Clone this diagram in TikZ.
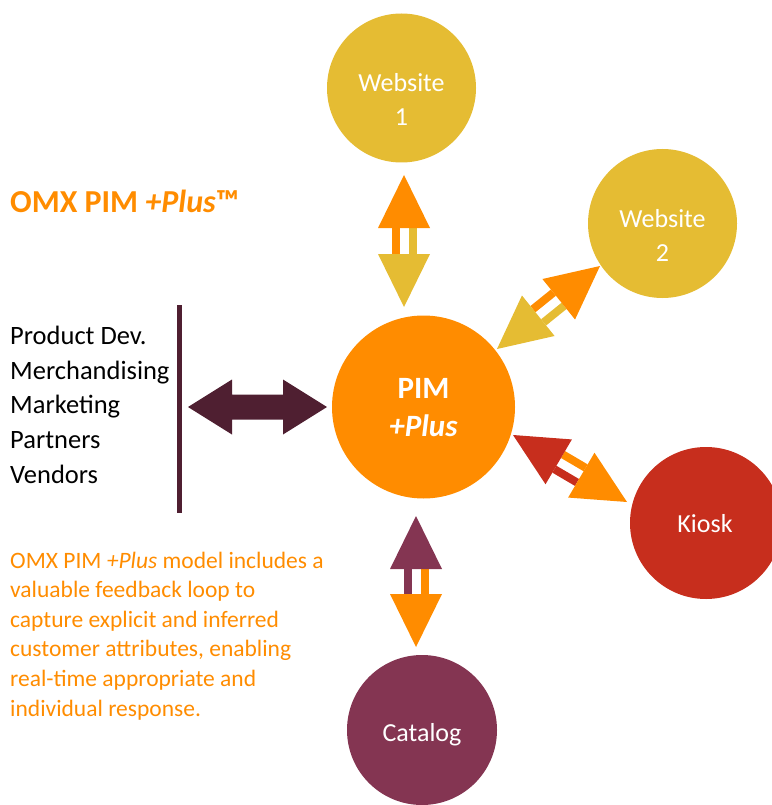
\documentclass[tikz,border=0pt]{standalone}
\usepackage{fontspec}
\setmainfont{Carlito}
\usepackage{xcolor}
\usepackage{tikz}
\usetikzlibrary{calc}

\definecolor{pimorange}{HTML}{FF8C00}
\definecolor{webgold}{HTML}{E5BC33}
\definecolor{kioskred}{HTML}{C72E1D}
\definecolor{catplum}{HTML}{843552}
\definecolor{deepplum}{HTML}{4F1F31}

% two-coloured double arrow: #1 inner tip, #2 outer tip, #3 outward colour, #4 inward colour
\newcommand{\twowayarrow}[4]{%
  \coordinate (hbo) at ($(#2)!53pt!(#1)$);
  \coordinate (hbi) at ($(#1)!53pt!(#2)$);
  \draw[#3, line width=8pt] ($(hbi)!8.5pt!90:(#2)$) -- ($(hbo)!8.5pt!-90:(#1)$);
  \draw[#4, line width=8pt] ($(hbi)!8.5pt!-90:(#2)$) -- ($(hbo)!8.5pt!90:(#1)$);
  \fill[#3] (#2) -- ($(hbo)!26pt!90:(#1)$) -- ($(hbo)!26pt!-90:(#1)$) -- cycle;
  \fill[#4] (#1) -- ($(hbi)!26pt!90:(#2)$) -- ($(hbi)!26pt!-90:(#2)$) -- cycle;
}

\begin{document}
\begin{tikzpicture}[x=1pt, y=-1pt,
    disc/.style={circle, inner sep=0pt, draw=none},
    disctext/.style={anchor=base, inner sep=0pt, align=center, text=white,
      font=\fontsize{26}{34}\selectfont},
    sidetext/.style={anchor=base west, inner sep=0pt, align=left}]

  \useasboundingbox (0,0) rectangle (771,805);

  % circles
  \node[disc, fill=webgold,   minimum size=149pt] (w1)      at (401.5,88)  {};
  \node[disc, fill=webgold,   minimum size=149pt] (w2)      at (662.5,223.5) {};
  \node[disc, fill=pimorange, minimum size=183pt] (pim)     at (423.5,407) {};
  \node[disc, fill=kioskred,  minimum size=152pt] (kiosk)   at (706,523)   {};
  \node[disc, fill=catplum,   minimum size=150pt] (catalog) at (422,730)   {};

  % base = last line
  \node[disctext] (w1txt) at (401.5,126) {Website\\1};
  \node[disctext] (w2txt) at (662.5,261.7) {Website\\2};
  \node[disctext, font=\fontsize{31}{38}\selectfont\bfseries] (pimtxt) at (423.5,436) {PIM\\\textit{+Plus}};
  \node[disctext] (kiosktxt)   at (705,532) {Kiosk};
  \node[disctext] (catalogtxt) at (422,741) {Catalog};

  % arrow ends
  \coordinate (w1in)  at (404,307);
  \coordinate (w1out) at (404,175);
  \coordinate (w2in)  at (497,349);
  \coordinate (w2out) at (600,266);
  \coordinate (kin)   at (513,435);
  \coordinate (kout)  at (627,502);
  \coordinate (cin)   at (416,516);
  \coordinate (cout)  at (416,647);

  \twowayarrow{w1in}{w1out}{pimorange}{webgold}
  \twowayarrow{w2in}{w2out}{pimorange}{webgold}
  \twowayarrow{kin}{kout}{pimorange}{kioskred}
  \twowayarrow{cin}{cout}{pimorange}{catplum}

  % left side
  \draw[deepplum, line width=5pt] (179,305) -- (179,513);
  \coordinate (la) at (188,407);
  \coordinate (ra) at (327,407);
  \fill[deepplum] (la) -- ++(44,-27.5) -- ++(0,15) -- ++(51,0) -- ++(0,-15)
    -- (ra) -- ++(-44,27.5) -- ++(0,-15) -- ++(-51,0) -- ++(0,15) -- cycle;

  \node[sidetext, font=\fontsize{26.5}{34.6}\selectfont] (teams) at (10,483)
    {Product Dev.\\Merchandising\\Marketing\\Partners\\Vendors};

  \node[sidetext, text=pimorange, font=\fontsize{32}{38}\selectfont\bfseries] (title) at (10,212)
    {OMX PIM \textit{+Plus}™};

  \node[sidetext, text=pimorange, font=\fontsize{23.5}{29.6}\selectfont] (note) at (10,716)
    {OMX PIM \textit{+Plus} model includes a\\valuable feedback loop to\\capture explicit and inferred\\customer attributes, enabling\\real-time appropriate and\\individual response.};

\end{tikzpicture}
\end{document}
